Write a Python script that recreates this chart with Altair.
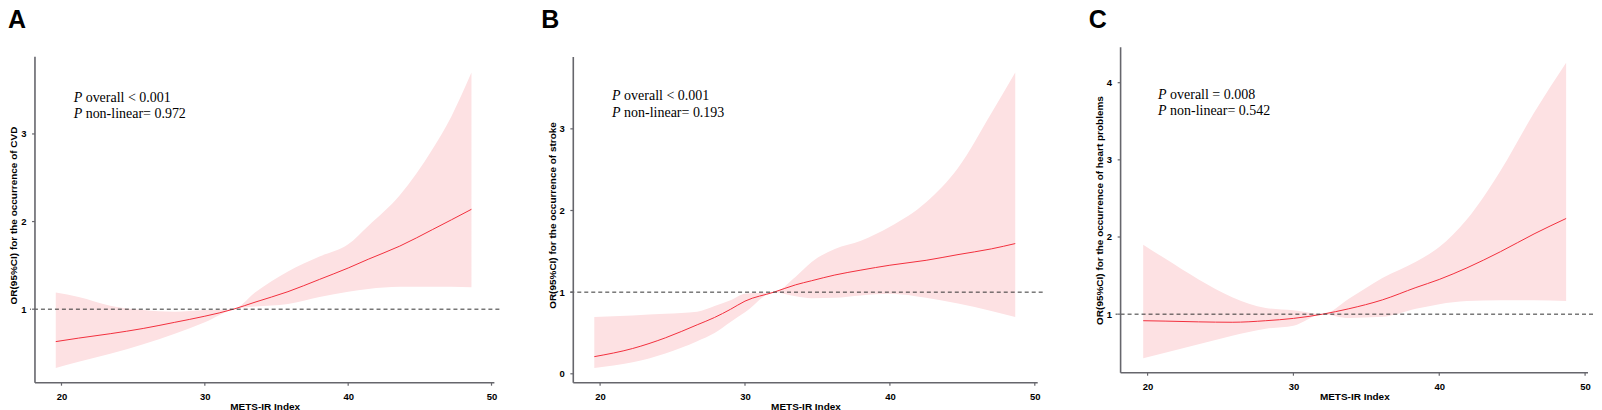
import altair as alt
import pandas as pd

# ---------------- data ----------------
# Panel A: CVD
a_x     = [19.6, 21.2, 23.4, 25.7, 27.9, 30.0, 32.0, 33.5, 35.8, 38.0, 40.0, 41.4, 43.6, 45.9, 47.2, 48.6]
a_or    = [0.63, 0.67, 0.72, 0.78, 0.85, 0.92, 1.00, 1.08, 1.20, 1.34, 1.47, 1.57, 1.72, 1.91, 2.02, 2.14]
a_lower = [0.33, 0.40, 0.49, 0.60, 0.72, 0.85, 1.00, 1.03, 1.06, 1.14, 1.20, 1.23, 1.255, 1.255, 1.255, 1.25]
a_upper = [1.19, 1.14, 1.04, 0.99, 0.97, 0.99, 1.00, 1.19, 1.43, 1.60, 1.74, 1.95, 2.30, 2.83, 3.20, 3.70]

# Panel B: stroke
b_x     = [19.6, 22.25, 24.5, 26.7, 27.9, 29.0, 30.0, 32.0, 33.5, 34.6, 36.2, 38.0, 40.0, 42.5, 44.7, 47.0, 48.65]
b_or    = [0.21, 0.31, 0.44, 0.60, 0.69, 0.79, 0.89, 1.00, 1.09, 1.14, 1.21, 1.27, 1.33, 1.39, 1.46, 1.53, 1.595]
b_lower = [0.07, 0.14, 0.25, 0.40, 0.50, 0.635, 0.754, 1.00, 0.95, 0.925, 0.93, 0.96, 0.98, 0.93, 0.86, 0.77, 0.695]
b_upper = [0.695, 0.715, 0.735, 0.76, 0.83, 0.90, 0.98, 1.00, 1.19, 1.37, 1.53, 1.63, 1.80, 2.10, 2.52, 3.19, 3.69]

# Panel C: heart problems
c_x     = [19.7, 21.2, 23.5, 25.8, 28.1, 30.0, 32.0, 33.8, 36.1, 38.4, 40.0, 41.9, 44.2, 46.5, 48.7]
c_or    = [0.915, 0.91, 0.90, 0.895, 0.915, 0.945, 1.00, 1.07, 1.185, 1.345, 1.45, 1.60, 1.81, 2.04, 2.24]
c_lower = [0.43, 0.50, 0.61, 0.72, 0.81, 0.85, 1.00, 0.95, 0.965, 1.07, 1.13, 1.17, 1.18, 1.18, 1.17]
c_upper = [1.90, 1.72, 1.45, 1.22, 1.08, 1.05, 1.00, 1.20, 1.47, 1.68, 1.87, 2.23, 2.86, 3.61, 4.26]

x_ticks = [20, 30, 40, 50]
x_domain = [18.15, 50.2]

# y range of each panel: [bottom, top of the axis line, top of the view]
a_yticks, a_yrange = [1, 2, 3], [0.16, 3.88, 3.99]
b_yticks, b_yrange = [0, 1, 2, 3], [-0.11, 3.88, 4.0]
c_yticks, c_yrange = [1, 2, 3, 4], [0.24, 4.46, 4.46]

x_title = "METS-IR Index"
a_ytitle = "OR(95%CI) for the occurrence of CVD"
b_ytitle = "OR(95%CI) for the occurrence of stroke"
c_ytitle = "OR(95%CI) for the occurrence of heart problems"

a_text = ["overall < 0.001", "non-linear= 0.972"]
b_text = ["overall < 0.001", "non-linear= 0.193"]
c_text = ["overall = 0.008", "non-linear= 0.542"]
a_text_pos = (20.85, [3.41, 3.23])
b_text_pos = (20.83, [3.40, 3.20])
c_text_pos = (20.72, [3.84, 3.63])

RIBBON = "#FDE1E3"
LINE = "#F22F3D"
AXIS = "#66666c"
TICK_PX = 3


def panel(letter, xs, orv, lo, up, yrange, yticks, ytitle, texts, tpos,
          width, height, title_dx):
    df = pd.DataFrame({"x": xs, "or": orv, "lo": lo, "up": up})
    xs_scale = alt.Scale(domain=x_domain, nice=False, zero=False)
    ys_scale = alt.Scale(domain=[yrange[0], yrange[2]], nice=False, zero=False)
    x_axis = alt.Axis(values=x_ticks, title=x_title, format="d",
                      domain=False, ticks=False, labelPadding=4)
    y_axis = alt.Axis(values=yticks, title=ytitle, format="d",
                      domain=False, ticks=False, labelPadding=4)

    def X(f):
        return alt.X(f, scale=xs_scale, axis=x_axis, title=x_title)

    def Y(f):
        return alt.Y(f, scale=ys_scale, axis=y_axis, title=ytitle)

    area = alt.Chart(df).mark_area(color=RIBBON, opacity=1, interpolate="monotone").encode(
        x=X("x:Q"), y=Y("lo:Q"), y2="up:Q",
    )
    line = alt.Chart(df).mark_line(color=LINE, strokeWidth=1, interpolate="monotone").encode(
        x=X("x:Q"), y=Y("or:Q"),
    )
    ref = alt.Chart(pd.DataFrame({"y": [1]})).mark_rule(
        color="#333333", strokeWidth=1, strokeDash=[4, 3]
    ).encode(y=Y("y:Q"))

    tdf = pd.DataFrame({"x": [tpos[0], tpos[0]], "y": tpos[1], "t": texts, "p": ["P", "P"]})
    p_txt = alt.Chart(tdf).mark_text(
        align="left", baseline="middle", font="Liberation Serif", fontSize=14,
        fontStyle="italic", color="black"
    ).encode(x=X("x:Q"), y=Y("y:Q"), text="p:N")
    rest_txt = alt.Chart(tdf).mark_text(
        align="left", baseline="middle", font="Liberation Serif", fontSize=14,
        color="black", dx=12
    ).encode(x=X("x:Q"), y=Y("y:Q"), text="t:N")

    # axis lines and ticks drawn as thin filled bars
    ppx = width / (x_domain[1] - x_domain[0])
    ppy = height / (yrange[2] - yrange[0])
    yline = pd.DataFrame({"x": [x_domain[0]], "y": [yrange[0]], "y2": [yrange[1]]})
    xline = pd.DataFrame({"x": [x_domain[0]], "x2": [x_domain[1]], "y": [yrange[0]]})
    xt = pd.DataFrame({"x": x_ticks, "y": [yrange[0]] * len(x_ticks),
                       "y2": [yrange[0] - TICK_PX / ppy] * len(x_ticks)})
    yt = pd.DataFrame({"y": yticks, "x": [x_domain[0]] * len(yticks),
                       "x2": [x_domain[0] - TICK_PX / ppx] * len(yticks)})

    y_axis_line = alt.Chart(yline).mark_bar(color=AXIS, size=1.6).encode(
        x=X("x:Q"), y=Y("y:Q"), y2="y2:Q")
    x_axis_line = alt.Chart(xline).mark_bar(color=AXIS, size=1.6).encode(
        x=X("x:Q"), x2="x2:Q", y=Y("y:Q"))
    x_tick_marks = alt.Chart(xt).mark_bar(color=AXIS, size=1.2).encode(
        x=X("x:Q"), y=Y("y:Q"), y2="y2:Q")
    y_tick_marks = alt.Chart(yt).mark_bar(color=AXIS, size=1.2).encode(
        x=X("x:Q"), x2="x2:Q", y=Y("y:Q"))

    layers = [area, line, ref, p_txt, rest_txt,
              y_axis_line, x_axis_line, x_tick_marks, y_tick_marks]

    return alt.layer(*layers).properties(
        width=width, height=height,
        title=alt.TitleParams(letter, anchor="start", frame="group", dx=title_dx,
                              fontSize=25, fontWeight="bold", font="Liberation Sans",
                              color="black", offset=9),
    )


A = panel("A", a_x, a_or, a_lower, a_upper, a_yrange, a_yticks, a_ytitle, a_text, a_text_pos,
          470, 346, -22)
B = panel("B", b_x, b_or, b_lower, b_upper, b_yrange, b_yticks, b_ytitle, b_text, b_text_pos,
          475, 346, -27)
C = panel("C", c_x, c_or, c_lower, c_upper, c_yrange, c_yticks, c_ytitle, c_text, c_text_pos,
          478, 336, -27)

inner = alt.hconcat(B, C, spacing=45)
chart = alt.hconcat(A, inner, spacing=41).properties(
    padding={"left": 0, "top": 0, "right": 0, "bottom": 0},
    background="white",
).configure_view(stroke=None).configure_axis(
    grid=False,
    labelColor="black",
    labelFont="Liberation Sans",
    labelFontWeight="bold",
    labelFontSize=9.5,
    titleFont="Liberation Sans",
    titleFontWeight="bold",
    titleFontSize=10,
    titleColor="black",
).configure_axisY(titlePadding=2).configure_axisX(titlePadding=0)

chart.save("out.html", embed_options={"renderer": "svg", "actions": False})
